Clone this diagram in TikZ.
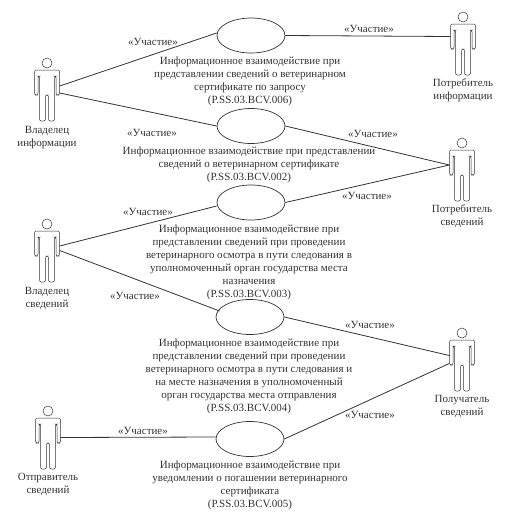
\documentclass[tikz,border=0pt]{standalone}
\usepackage{fontspec}
\setmainfont{Liberation Serif}
\usetikzlibrary{positioning, shapes.geometric}
\definecolor{umlink}{HTML}{333333}

\tikzset{
    usecase/.style={draw=umlink, ellipse, line width=0.7pt, minimum width=68pt, minimum height=35pt, inner sep=0pt},
    usetext/.style={align=center, inner sep=0pt, text=umlink, font=\fontsize{11}{13}\selectfont},
    rolelabel/.style={inner sep=0pt, text=umlink, font=\fontsize{11}{13}\selectfont},
    actorname/.style={align=center, inner sep=0pt, text=umlink, font=\fontsize{11}{13}\selectfont},
    link/.style={draw=umlink, line width=0.8pt},
    actor/.pic={
        \node[minimum width=25pt, minimum height=63pt, inner sep=0pt] (-body) at (0,26.5) {};
        \draw[umlink, line width=0.5pt] (0,0) circle (5);
        \draw[umlink, line width=0.5pt, rounded corners=2pt]
            (-4,7) -- (-12.5,7) -- (-12.5,32) -- (-9,32) -- (-9,13)
            -- (-7.5,13) -- (-7.5,58) -- (-1.5,58) -- (-1.5,32) -- (1.5,32) -- (1.5,58) -- (7.5,58)
            -- (7.5,13) -- (9,13) -- (9,32) -- (12.5,32) -- (12.5,7) -- (4,7) -- cycle;
    },
}

\begin{document}
\begin{tikzpicture}[x=1pt, y=-1pt]
    \useasboundingbox (0,0) rectangle (513,515);

    % actors
    \pic (infoowner) at (47,63) {actor};
    \pic (infouser) at (463,17) {actor};
    \pic (datauser) at (462,143) {actor};
    \pic (dataowner) at (47,224) {actor};
    \pic (receiver) at (462,333) {actor};
    \pic (sender) at (48,411) {actor};

    \node[actorname] (infoownername) at (47,137.5) {Владелец\\информации};
    \node[actorname] (infousername) at (463,90.5) {Потребитель\\информации};
    \node[actorname] (datausername) at (462,216.5) {Потребитель\\сведений};
    \node[actorname] (dataownername) at (47,298) {Владелец\\сведений};
    \node[actorname] (receivername) at (462,406.5) {Получатель\\сведений};
    \node[actorname] (sendername) at (48,484.5) {Отправитель\\сведений};

    % use cases
    \node[usecase] (uc006) at (251,35.5) {};
    \node[usecase] (uc002) at (251,126) {};
    \node[usecase] (uc003) at (251,202.5) {};
    \node[usecase] (uc004) at (250,317) {};
    \node[usecase] (uc005) at (250,439) {};

    \node[usetext] (uc006text) at (250,81.5) {Информационное взаимодействие при\\представлении сведений о ветеринарном\\сертификате по запросу\\(P.SS.03.BCV.006)};
    \node[usetext] (uc002text) at (249,165) {Информационное взаимодействие при представлении\\сведений о ветеринарном сертификате\\(P.SS.03.BCV.002)};
    \node[usetext] (uc003text) at (249,262) {Информационное взаимодействие при\\представлении сведений при проведении\\ветеринарного осмотра в пути следования в\\уполномоченный орган государства места\\назначения\\(P.SS.03.BCV.003)};
    \node[usetext] (uc004text) at (249,376.5) {Информационное взаимодействие при\\представлении сведений при проведении\\ветеринарного осмотра в пути следования и\\на месте назначения в уполномоченный\\орган государства места отправления\\(P.SS.03.BCV.004)};
    \node[usetext] (uc005text) at (250,485) {Информационное взаимодействие при\\уведомлении о погашении ветеринарного\\сертификата\\(P.SS.03.BCV.005)};

    % links
    \draw[link] ([yshift=3.5pt]infoowner-body.east) -- ([yshift=2.5pt]uc006.west);
    \draw[link] ([yshift=-3.5pt]infoowner-body.east) -- (uc002.west);
    \draw[link] ([yshift=4.5pt]dataowner-body.east) -- ([yshift=-3.5pt]uc003.west);
    \draw[link] (dataowner-body.east) -- ([yshift=6pt,xshift=4pt]uc004.west);
    \draw[link] (sender-body.east) -- ([yshift=2pt]uc005.west);
    \draw[link] (uc006.east) -- ([yshift=7pt]infouser-body.west);
    \draw[link] (uc002.east) -- ([yshift=4.5pt]datauser-body.west);
    \draw[link] (uc003.east) -- ([yshift=4.5pt]datauser-body.west);
    \draw[link] (uc004.east) -- ([yshift=4pt]receiver-body.west);
    \draw[link] (uc005.east) -- ([yshift=-4pt]receiver-body.west);

    % role labels
    \foreach \name/\x/\y in {role1/153/42, role2/152/133, role3/148/212, role4/135/296, role5/143/431, role6/369/29, role7/373/134, role8/367/196, role9/370/325, role10/370/415}
        \node[rolelabel] (\name) at (\x,\y) {«Участие»};
\end{tikzpicture}
\end{document}
